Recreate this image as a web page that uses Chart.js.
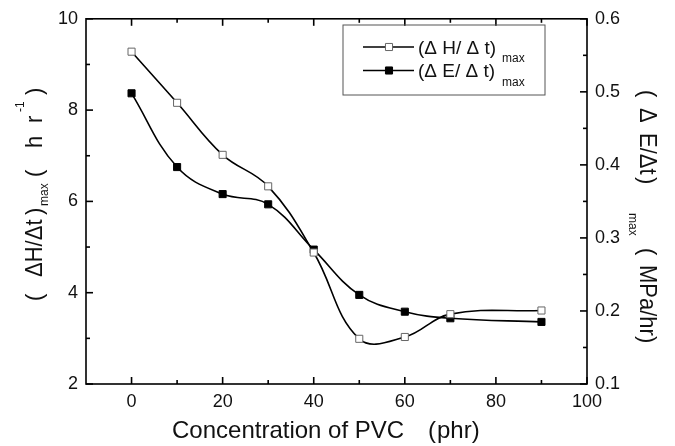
<!DOCTYPE html>
<html>
<head>
<meta charset="utf-8">
<script src="https://cdn.jsdelivr.net/npm/chart.js@4/dist/chart.umd.min.js"></script>
<style>
  html, body { margin: 0; padding: 0; background: #fff; }
  canvas { display: block; }
</style>
</head>
<body>
<canvas id="rateChart" width="675" height="446"></canvas>
<script>
// PVC content (phr) and the two peak rates
const phr   = [0, 10, 20, 30, 40, 50, 60, 70, 90];
const dHdt  = [9.28, 8.16, 7.02, 6.33, 4.88, 2.99, 3.03, 3.53, 3.61];      // h r^-1
const dEdt  = [0.498, 0.397, 0.36, 0.346, 0.284, 0.222, 0.199, 0.19, 0.185]; // MPa/hr

// tick labels
const xTicks = [0, 20, 40, 60, 80, 100];
const hTicks = [2, 4, 6, 8, 10];
const eTicks = [0.1, 0.2, 0.3, 0.4, 0.5, 0.6];

const FONT = 'Arial, "Liberation Sans", Helvetica, sans-serif';
const INK  = '#111';

const toPts = ys => phr.map((x, i) => ({ x, y: ys[i] }));

// text pieces laid out along a line: {t, x, size, dy}
function drawRuns(ctx, runs){
  runs.forEach(r => {
    ctx.font = `${r.size || 22}px ${FONT}`;
    ctx.fillText(r.t, r.x, r.dy || 0);
  });
}

// frame + inward ticks on all four sides
const frameTicks = {
  id: 'frameTicks',
  afterDraw(chart){
    const { ctx, chartArea: a, scales } = chart;
    ctx.save();
    ctx.strokeStyle = '#000';
    ctx.lineWidth = 1.6;
    const seg = (x1, y1, x2, y2) => { ctx.beginPath(); ctx.moveTo(x1, y1); ctx.lineTo(x2, y2); ctx.stroke(); };
    const withMinor = list => {
      const out = [];
      list.forEach((v, i) => {
        out.push({ v, len: 7 });
        if (i < list.length - 1) out.push({ v: (v + list[i + 1]) / 2, len: 4 });
      });
      return out;
    };
    withMinor(xTicks).forEach(t => {
      const px = scales.x.getPixelForValue(t.v);
      seg(px, a.bottom, px, a.bottom - t.len);
      seg(px, a.top, px, a.top + t.len);
    });
    withMinor(hTicks).forEach(t => {
      const py = scales.y.getPixelForValue(t.v);
      seg(a.left, py, a.left + t.len, py);
    });
    withMinor(eTicks).forEach(t => {
      const py = scales.y1.getPixelForValue(t.v);
      seg(a.right, py, a.right - t.len, py);
    });
    ctx.strokeRect(a.left, a.top, a.right - a.left, a.bottom - a.top);
    ctx.restore();
  }
};

// axis titles with subscripts / superscripts
const axisTitles = {
  id: 'axisTitles',
  afterDraw(chart){
    const { ctx } = chart;
    ctx.save();
    ctx.fillStyle = INK;
    ctx.textBaseline = 'alphabetic';
    ctx.textAlign = 'left';

    // left, reading upwards
    ctx.save();
    ctx.translate(42, 307);
    ctx.rotate(-Math.PI / 2);
    ctx.scale(1, 1.12);
    drawRuns(ctx, [
      { t: '(', x: 6 },
      { t: 'ΔH/Δt', x: 30 },
      { t: ')', x: 92 },
      { t: 'max', x: 101, size: 12, dy: 5 },
      { t: '(', x: 130 },
      { t: 'h', x: 159 },
      { t: 'r', x: 184 },
      { t: '-1', x: 195, size: 12, dy: -16 },
      { t: ')', x: 212 }
    ]);
    ctx.restore();

    // right, reading downwards
    ctx.save();
    ctx.translate(640, 88);
    ctx.rotate(Math.PI / 2);
    ctx.scale(1, 1.12);
    drawRuns(ctx, [
      { t: '(', x: 2 },
      { t: 'Δ', x: 20 },
      { t: 'E/Δt', x: 45 },
      { t: ')', x: 89 },
      { t: 'max', x: 125, size: 12, dy: 10 },
      { t: '(', x: 160 },
      { t: 'MPa/hr)', x: 177 }
    ]);
    ctx.restore();

    // bottom
    drawRuns(ctx, [
      { t: 'Concentration of PVC', x: 172, size: 24, dy: 438 },
      { t: '(', x: 428, size: 24, dy: 438 },
      { t: 'phr)', x: 437, size: 24, dy: 438 }
    ]);
    ctx.restore();
  }
};

// boxed legend, label text carries a "max" subscript
const boxLegend = {
  id: 'boxLegend',
  afterDraw(chart){
    const { ctx } = chart;
    const labels = ['(Δ H/ Δ t)', '(Δ E/ Δ t)'];
    ctx.save();
    ctx.strokeStyle = '#555';
    ctx.lineWidth = 1;
    ctx.strokeRect(343, 25, 202, 70);
    chart.data.datasets.forEach((ds, i) => {
      const y = 47 + i * 23.5;
      ctx.strokeStyle = ds.borderColor;
      ctx.lineWidth = ds.borderWidth;
      ctx.beginPath(); ctx.moveTo(363, y); ctx.lineTo(414, y); ctx.stroke();
      ctx.fillStyle = ds.pointBackgroundColor;
      ctx.strokeStyle = ds.pointBorderColor;
      ctx.lineWidth = ds.pointBorderWidth;
      Chart.helpers.drawPoint(ctx, { pointStyle: ds.pointStyle, radius: ds.pointRadius, borderWidth: ds.pointBorderWidth }, 389, y);
      ctx.fillStyle = INK;
      drawRuns(ctx, [
        { t: labels[i], x: 418, size: 19, dy: y + 6.5 },
        { t: 'max', x: 502, size: 12, dy: y + 15 }
      ]);
    });
    ctx.restore();
  }
};

const tickFont = { family: FONT, size: 18 };

new Chart(document.getElementById('rateChart'), {
  type: 'line',
  data: {
    datasets: [
      {
        label: '(ΔH/Δt)max',
        data: toPts(dHdt),
        yAxisID: 'y',
        borderColor: '#000',
        borderWidth: 1.6,
        tension: 0.4,
        pointStyle: 'rect',
        pointRadius: 5,
        pointBackgroundColor: '#fff',
        pointBorderColor: '#666',
        pointBorderWidth: 1
      },
      {
        label: '(ΔE/Δt)max',
        data: toPts(dEdt),
        yAxisID: 'y1',
        borderColor: '#000',
        borderWidth: 1.6,
        tension: 0.4,
        pointStyle: 'rect',
        pointRadius: 5,
        pointBackgroundColor: '#000',
        pointBorderColor: '#000',
        pointBorderWidth: 1
      }
    ]
  },
  options: {
    responsive: false,
    devicePixelRatio: 1,
    animation: false,
    layout: { padding: { top: 15, left: 0, right: 0, bottom: 0 } },
    plugins: { legend: { display: false }, tooltip: { enabled: false } },
    scales: {
      x: {
        type: 'linear',
        min: -10, max: 100,
        grid: { display: false, drawTicks: false },
        border: { display: false },
        afterBuildTicks: s => { s.ticks = xTicks.map(v => ({ value: v })); },
        afterFit: s => { s.height = 62; },
        ticks: { font: tickFont, color: INK, padding: 7, maxRotation: 0, callback: v => String(v) }
      },
      y: {
        position: 'left',
        min: 2, max: 10,
        grid: { display: false, drawTicks: false },
        border: { display: false },
        afterBuildTicks: s => { s.ticks = hTicks.map(v => ({ value: v })); },
        afterFit: s => { s.width = 86; },
        ticks: { font: tickFont, color: INK, padding: 8, callback: v => String(v) }
      },
      y1: {
        position: 'right',
        min: 0.1, max: 0.6,
        grid: { display: false, drawTicks: false },
        border: { display: false },
        afterBuildTicks: s => { s.ticks = eTicks.map(v => ({ value: v })); },
        afterFit: s => { s.width = 88; },
        ticks: { font: tickFont, color: INK, padding: 8, callback: v => Number(v).toFixed(1) }
      }
    }
  },
  plugins: [frameTicks, axisTitles, boxLegend]
});
</script>
</body>
</html>
